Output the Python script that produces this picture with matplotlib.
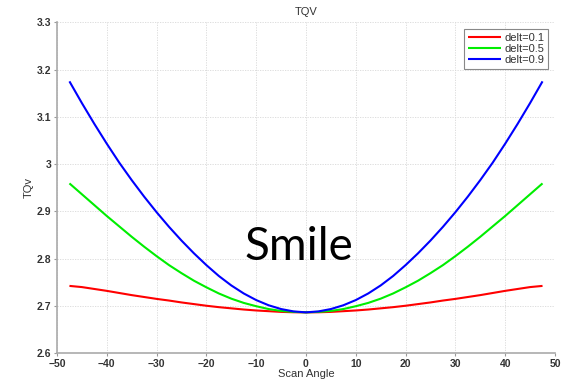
import matplotlib
matplotlib.use("Agg")
import matplotlib.pyplot as plt

# Scan angle grid (degrees) and TQV for three delt settings
angles = [-47.5, -45, -42.5, -40, -37.5, -35, -32.5, -30, -27.5, -25, -22.5, -20,
          -17.5, -15, -12.5, -10, -7.5, -5, -2.5, 0, 2.5, 5, 7.5, 10, 12.5, 15,
          17.5, 20, 22.5, 25, 27.5, 30, 32.5, 35, 37.5, 40, 42.5, 45, 47.5]

tqv_d01 = [2.742, 2.7395, 2.7355, 2.7315, 2.727, 2.7225, 2.7185, 2.7145, 2.711, 2.707,
           2.7035, 2.700, 2.697, 2.6945, 2.692, 2.690, 2.6885, 2.687, 2.6862, 2.686,
           2.6862, 2.687, 2.6885, 2.690, 2.692, 2.6945, 2.697, 2.700, 2.7035, 2.707,
           2.711, 2.7145, 2.7185, 2.7225, 2.727, 2.7315, 2.7355, 2.7395, 2.742]

tqv_d05 = [2.959, 2.936, 2.913, 2.890, 2.868, 2.846, 2.825, 2.805, 2.786, 2.769,
           2.753, 2.739, 2.726, 2.715, 2.706, 2.699, 2.693, 2.689, 2.687, 2.686,
           2.687, 2.689, 2.693, 2.699, 2.706, 2.715, 2.726, 2.739, 2.753, 2.769,
           2.786, 2.805, 2.825, 2.846, 2.868, 2.890, 2.913, 2.936, 2.959]

tqv_d09 = [3.175, 3.129, 3.085, 3.043, 3.003, 2.966, 2.931, 2.898, 2.867, 2.838,
           2.811, 2.786, 2.763, 2.743, 2.726, 2.712, 2.701, 2.693, 2.688, 2.686,
           2.688, 2.693, 2.701, 2.712, 2.726, 2.743, 2.763, 2.786, 2.811, 2.838,
           2.867, 2.898, 2.931, 2.966, 3.003, 3.043, 3.085, 3.129, 3.175]

series_labels = ["delt=0.1", "delt=0.5", "delt=0.9"]
series_colors = ["#ff0000", "#00ee00", "#0000ff"]

xticks = [-50, -40, -30, -20, -10, 0, 10, 20, 30, 40, 50]
yticks = [2.6, 2.7, 2.8, 2.9, 3.0, 3.1, 3.2, 3.3]
ytick_labels = ["2.6", "2.7", "2.8", "2.9", "3", "3.1", "3.2", "3.3"]

plt.rcParams["font.family"] = ["Liberation Sans", "DejaVu Sans"]

fig = plt.figure(figsize=(5.62, 3.80), dpi=100)
ax = fig.add_axes([0.1014, 0.0711, 0.8861, 0.8702])

for vals, lab, col in zip([tqv_d01, tqv_d05, tqv_d09], series_labels, series_colors):
    ax.plot(angles, vals, color=col, lw=1.5, label=lab,
            solid_capstyle="butt", solid_joinstyle="round")

ax.set_xlim(-50, 50)
ax.set_ylim(2.6, 3.3)
ax.set_xticks(xticks)
ax.set_yticks(yticks)
ax.set_yticklabels(ytick_labels)
ax.tick_params(axis="both", labelsize=7.5, colors="#999999", labelcolor="#333333",
               length=2.5, width=0.8, direction="out", pad=1.5)
for lbl in ax.get_xticklabels() + ax.get_yticklabels():
    lbl.set_fontweight("bold")

ax.grid(True, color="#d8d8d8", linestyle=(0, (1.5, 1.5)), linewidth=0.6)
ax.set_axisbelow(True)
for side in ("top", "right"):
    ax.spines[side].set_visible(False)
for side in ("left", "bottom"):
    ax.spines[side].set_color("#aaaaaa")
    ax.spines[side].set_linewidth(1.2)

ax.set_title("TQV", fontsize=8, color="#333333", pad=5)
ax.set_xlabel("Scan Angle", fontsize=8, color="#333333", labelpad=0.5)
ax.set_ylabel("TQv", fontsize=8, color="#333333", labelpad=2)

leg = ax.legend(loc="upper right", fontsize=8, frameon=True, fancybox=False,
                edgecolor="#888888", framealpha=1, handlelength=2.9,
                handletextpad=0.35, borderpad=0.35, labelspacing=0.1,
                borderaxespad=0.6)
leg.get_frame().set_linewidth(0.8)
for t in leg.get_texts():
    t.set_color("#333333")

ax.text(-1.4, 2.797, "Smile", fontsize=33, family=["Lato", "DejaVu Sans"],
        ha="center", va="baseline", color="black")

fig.savefig("out.png", dpi=100, facecolor="white")
